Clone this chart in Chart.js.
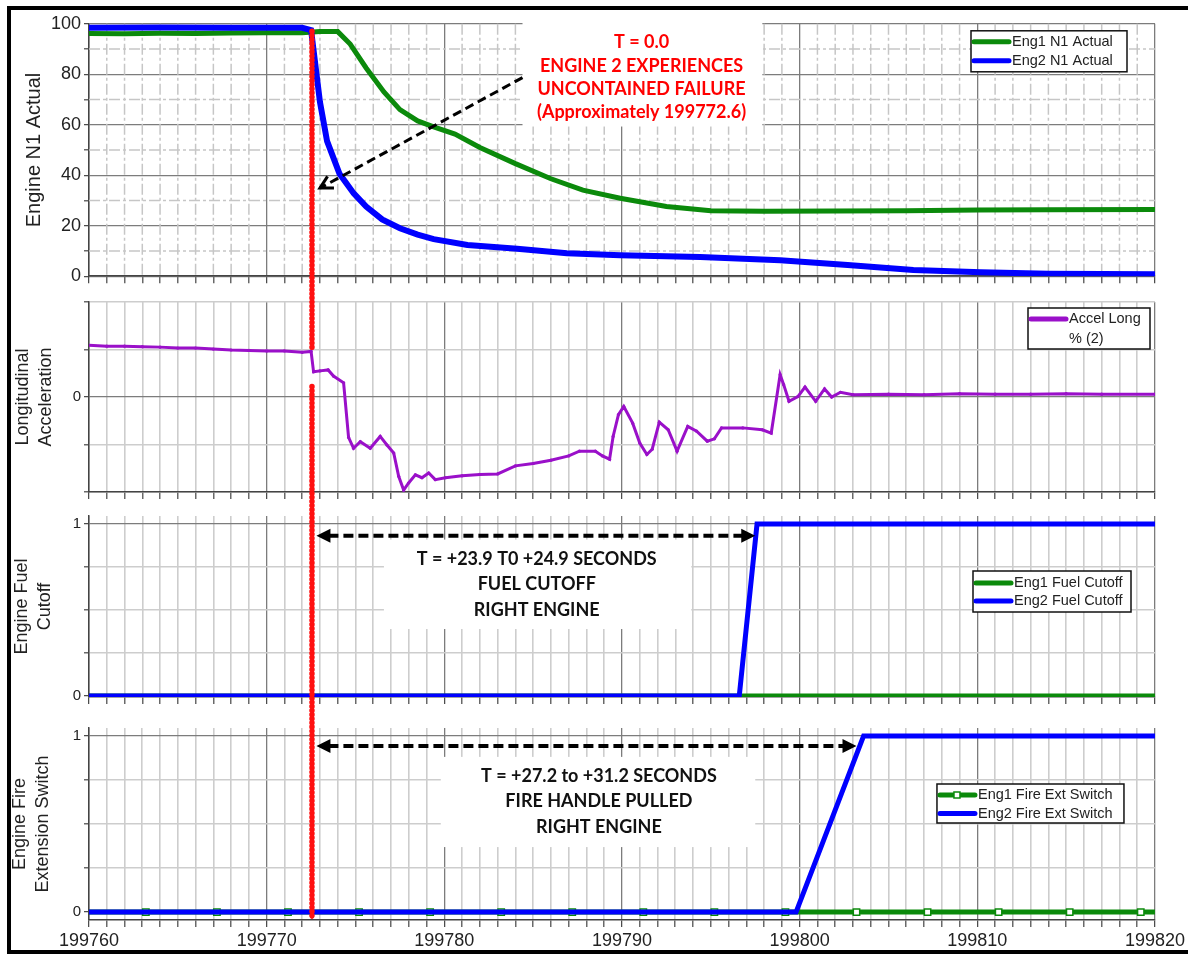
<!DOCTYPE html>
<html>
<head>
<meta charset="utf-8">
<script src="https://cdn.jsdelivr.net/npm/chart.js@4.4.0/dist/chart.umd.min.js"></script>
<style>
body { margin: 0; background: #fff; }
#wrap { position: relative; width: 1188px; height: 954px; overflow: hidden; background: #fff; }
#wrap canvas { position: absolute; left: 0; }
#overlay { top: 0; }
#frame { position: absolute; left: 7px; top: 6px; width: 1200px; height: 940px; border: 4px solid #000; }
</style>
</head>
<body>
<div id="wrap">
  <canvas id="c1"></canvas>
  <canvas id="c2"></canvas>
  <canvas id="c3"></canvas>
  <canvas id="c4"></canvas>
  <canvas id="overlay" width="1188" height="954"></canvas>
  <div id="frame"></div>
</div>
<script>
var xMin = 199760;
var xMax = 199820;
var xLabelValues = [199760, 199770, 199780, 199790, 199800, 199810, 199820];
var failureTime = 199772.55;

// engine N1
var eng1N1Time = [199760, 199762, 199764, 199766, 199768, 199770, 199772, 199773, 199774, 199774.7, 199775.6, 199776.6, 199777.5, 199778.5, 199779.4, 199780.6, 199782, 199784, 199786, 199787.8, 199789.9, 199792.5, 199795, 199798, 199802, 199806, 199810, 199814, 199820];
var eng1N1Value = [96.2, 96.1, 96.3, 96.2, 96.4, 96.5, 96.5, 96.9, 96.9, 92, 82.5, 73, 66, 61.5, 59.2, 56.3, 51, 44.6, 38.6, 34.1, 30.9, 27.6, 25.9, 25.7, 25.8, 25.9, 26.2, 26.3, 26.4];
var eng2N1Time = [199760, 199764, 199768, 199772, 199772.5, 199773, 199773.4, 199774.1, 199774.9, 199775.6, 199776.5, 199777.5, 199778.5, 199779.4, 199781.3, 199784.1, 199786.9, 199789.9, 199794.4, 199798.9, 199802.7, 199806.4, 199810.2, 199814, 199820];
var eng2N1Value = [98.4, 98.5, 98.4, 98.4, 97.5, 69, 53.5, 40.6, 32.8, 27.6, 22.5, 19, 16.5, 14.7, 12.4, 10.9, 9.1, 8.3, 7.6, 6.3, 4.4, 2.5, 1.6, 1.0, 0.8];

// longitudinal acceleration
var accelTime = [199760, 199761, 199762, 199763, 199764, 199765, 199766, 199767, 199768, 199769, 199770, 199771, 199772, 199772.5, 199772.64, 199773, 199773.46, 199773.76, 199774.33, 199774.61, 199774.89, 199775.27, 199775.83, 199776.39, 199776.77, 199777.15, 199777.43, 199777.71, 199777.99, 199778.37, 199778.74, 199779.12, 199779.49, 199780.06, 199781, 199782, 199783, 199784, 199785, 199786, 199787, 199787.6, 199788.5, 199788.9, 199789.3, 199789.5, 199789.8, 199790.1, 199790.6, 199791, 199791.4, 199791.7, 199792.1, 199792.6, 199793.1, 199793.7, 199794.2, 199794.8, 199795.2, 199795.6, 199796.8, 199797.9, 199798.4, 199798.9, 199799.1, 199799.4, 199799.9, 199800.3, 199800.9, 199801.4, 199801.8, 199802.3, 199803, 199805, 199807, 199809, 199811, 199813, 199815, 199817, 199820];
var accelValue = [1.09, 1.07, 1.07, 1.06, 1.05, 1.03, 1.03, 1.01, 0.99, 0.98, 0.97, 0.97, 0.94, 0.96, 0.53, 0.55, 0.57, 0.44, 0.30, -0.85, -1.08, -0.94, -1.08, -0.83, -1.01, -1.18, -1.67, -1.96, -1.81, -1.64, -1.70, -1.60, -1.74, -1.70, -1.66, -1.63, -1.62, -1.45, -1.40, -1.33, -1.24, -1.14, -1.14, -1.24, -1.31, -0.83, -0.37, -0.20, -0.55, -0.97, -1.21, -1.10, -0.53, -0.69, -1.14, -0.62, -0.72, -0.93, -0.88, -0.65, -0.65, -0.69, -0.76, 0.47, 0.26, -0.09, 0.01, 0.21, -0.09, 0.17, 0.0, 0.10, 0.05, 0.06, 0.05, 0.07, 0.06, 0.06, 0.07, 0.06, 0.06];

// fuel cutoff
var eng1CutTime = [199760, 199820];
var eng1CutValue = [0, 0];
var eng2CutTime = [199760, 199796.6, 199797.6, 199820];
var eng2CutValue = [0, 0, 1, 1];

// fire extinguisher switch
var eng1FireTime = [199760, 199763.2, 199767.2, 199771.2, 199775.2, 199779.2, 199783.2, 199787.2, 199791.2, 199795.2, 199799.2, 199803.2, 199807.2, 199811.2, 199815.2, 199819.2, 199820];
var eng1FireValue = [0, 0, 0, 0, 0, 0, 0, 0, 0, 0, 0, 0, 0, 0, 0, 0, 0];
var eng2FireTime = [199760, 199799.8, 199803.6, 199820];
var eng2FireValue = [0, 0, 1, 1];

// y ticks
var n1Ticks = [0, 10, 20, 30, 40, 50, 60, 70, 80, 90, 100];
var n1TickLabels = [0, 20, 40, 60, 80, 100];
var accelTicks = [-2, -1, 0, 1, 2];
var accelTickLabels = [0];
var switchTicks = [0, 0.25, 0.5, 0.75, 1];
var switchTickLabels = [0, 1];

var GREEN = '#0b8a0b';
var BLUE = '#0000ff';
var PURPLE = '#9a10c9';
var MAJOR = '#7c7c7c';
var MINOR = '#cdcdcd';
var FONT = "'Liberation Sans', Arial, sans-serif";

var xTicks = [];
for (var t = xMin; t <= xMax; t++) xTicks.push(t);

function pts(times, values) {
    return times.map(function (x, i) { return { x: x, y: values[i] }; });
}

var boxLegend = {
    id: 'boxLegend',
    afterDatasetsDraw: function (chart, args, o) {
        var ctx = chart.ctx, a = chart.chartArea;
        var x = a.right - o.right - o.width, y = a.top + o.top;
        ctx.save();
        ctx.fillStyle = '#fff';
        ctx.fillRect(x, y, o.width, o.height);
        ctx.strokeStyle = '#111';
        ctx.lineWidth = 1.5;
        ctx.strokeRect(x, y, o.width, o.height);
        chart.data.datasets.forEach(function (ds, i) {
            var ly = y + o.rowTop + i * o.rowH;
            ctx.strokeStyle = ds.borderColor;
            ctx.lineWidth = 5;
            ctx.lineCap = 'round';
            ctx.beginPath();
            ctx.moveTo(x + 3, ly);
            ctx.lineTo(x + 38, ly);
            ctx.stroke();
            if (ds.pointStyle === 'rect') {
                ctx.fillStyle = '#fff';
                ctx.strokeStyle = ds.borderColor;
                ctx.lineWidth = 1.5;
                ctx.fillRect(x + 17, ly - 3, 6, 6);
                ctx.strokeRect(x + 17, ly - 3, 6, 6);
            }
            ctx.fillStyle = '#222';
            ctx.font = '14.5px ' + FONT;
            ctx.textBaseline = 'middle';
            ds.label.split('\n').forEach(function (line, k) {
                ctx.fillText(line, x + 41, ly + k * o.rowH);
            });
        });
        ctx.restore();
    }
};

var minorDash = {
    id: 'minorDash',
    beforeDatasetsDraw: function (chart) {
        var ctx = chart.ctx, a = chart.chartArea, sx = chart.scales.x, sy = chart.scales.y;
        ctx.save();
        ctx.strokeStyle = '#c6c6c6';
        ctx.lineWidth = 1.5;
        ctx.setLineDash([11, 3, 3, 3]);
        sx.ticks.forEach(function (tk) {
            if (tk.value % 10 === 0) return;
            var px = sx.getPixelForValue(tk.value);
            ctx.beginPath(); ctx.moveTo(px, a.top); ctx.lineTo(px, a.bottom); ctx.stroke();
        });
        sy.ticks.forEach(function (tk) {
            if (tk.value % 20 === 0) return;
            var py = sy.getPixelForValue(tk.value);
            ctx.beginPath(); ctx.moveTo(a.left, py); ctx.lineTo(a.right, py); ctx.stroke();
        });
        ctx.restore();
    }
};

function panel(id, box, y, datasets, legend, showX, dashed) {
    var cv = document.getElementById(id);
    cv.width = 1188;
    cv.height = box.h;
    cv.style.top = box.top + 'px';
    return new Chart(cv, {
        type: 'line',
        data: { datasets: datasets },
        options: {
            responsive: false,
            animation: false,
            events: [],
            layout: { padding: { top: box.pad, left: 0, right: 33, bottom: 0 } },
            plugins: { legend: { display: false }, tooltip: { enabled: false }, boxLegend: legend },
            scales: {
                x: {
                    type: 'linear', min: xMin, max: xMax,
                    afterBuildTicks: function (s) { s.ticks = xTicks.map(function (v) { return { value: v }; }); },
                    afterFit: function (s) { s.height = box.xh; },
                    grid: {
                        color: function (c) { return c.tick.value % 10 === 0 ? MAJOR : (dashed ? 'rgba(0,0,0,0)' : MINOR); },
                        lineWidth: function (c) { return c.tick.value % 10 === 0 ? 1.3 : 1.6; },
                        tickColor: '#444', tickLength: 7, tickWidth: 1.2
                    },
                    border: { color: '#444', width: 1.5 },
                    ticks: {
                        display: showX, autoSkip: false, maxRotation: 0, padding: 3, color: '#222',
                        font: { family: FONT, size: 18 },
                        callback: function (v) { return xLabelValues.indexOf(v) >= 0 ? String(v) : ''; }
                    }
                },
                y: {
                    min: y.min, max: y.max,
                    afterBuildTicks: function (s) { s.ticks = y.ticks.map(function (v) { return { value: v }; }); },
                    afterFit: function (s) { s.width = 89; },
                    grid: {
                        color: function (c) { return y.major.indexOf(c.tick.value) >= 0 ? MAJOR : (dashed ? 'rgba(0,0,0,0)' : MINOR); },
                        lineWidth: function (c) { return y.major.indexOf(c.tick.value) >= 0 ? 1.3 : 1.6; },
                        tickColor: '#444', tickLength: 5, tickWidth: 1.2
                    },
                    border: { color: '#444', width: 1.5 },
                    title: {
                        display: true, text: y.title, color: '#222',
                        font: { family: FONT, size: y.titleSize, lineHeight: 1.25 },
                        padding: { top: y.titlePad, bottom: 0 }
                    },
                    ticks: {
                        padding: 3, color: '#222', font: { family: FONT, size: y.tickSize },
                        callback: function (v) { return y.labels.indexOf(v) >= 0 ? String(v) : ''; }
                    }
                }
            }
        },
        plugins: dashed ? [minorDash, boxLegend] : [boxLegend]
    });
}

var c1 = panel('c1', { top: 10, h: 280, pad: 10, xh: 12 },
    { min: 0, max: 100, ticks: n1Ticks, labels: n1TickLabels, major: n1TickLabels, title: 'Engine N1 Actual', titleSize: 20, titlePad: 22, tickSize: 18 },
    [
        { label: 'Eng1 N1 Actual', data: pts(eng1N1Time, eng1N1Value), borderColor: GREEN, borderWidth: 5, pointRadius: 0, order: 1 },
        { label: 'Eng2 N1 Actual', data: pts(eng2N1Time, eng2N1Value), borderColor: BLUE, borderWidth: 6, pointRadius: 0, order: 0 }
    ],
    { right: 28, top: 7, width: 156, height: 41, rowTop: 11, rowH: 19 }, false, true);

var c2 = panel('c2', { top: 290, h: 214, pad: 10, xh: 12 },
    { min: -2, max: 2, ticks: accelTicks, labels: accelTickLabels, major: [0], title: ['Longitudinal', 'Acceleration'], titleSize: 18, titlePad: 12, tickSize: 15 },
    [
        { label: 'Accel Long\n% (2)', data: pts(accelTime, accelValue), borderColor: PURPLE, backgroundColor: PURPLE, borderWidth: 3, pointRadius: 1.6, pointBorderWidth: 0 }
    ],
    { right: 5, top: 6, width: 122, height: 41, rowTop: 11, rowH: 20 }, false, false);

var c3 = panel('c3', { top: 504, h: 205, pad: 9, xh: 12 },
    { min: -0.006, max: 1.046, ticks: switchTicks, labels: switchTickLabels, major: switchTickLabels, title: ['Engine Fuel', 'Cutoff'], titleSize: 18, titlePad: 11, tickSize: 15 },
    [
        { label: 'Eng1 Fuel Cutoff', data: pts(eng1CutTime, eng1CutValue), borderColor: GREEN, borderWidth: 5, pointRadius: 0, order: 1 },
        { label: 'Eng2 Fuel Cutoff', data: pts(eng2CutTime, eng2CutValue), borderColor: BLUE, borderWidth: 5, pointRadius: 0, order: 0 }
    ],
    { right: 24, top: 55, width: 158, height: 41, rowTop: 12, rowH: 18 }, false, false);

var c4 = panel('c4', { top: 709, h: 241, pad: 19, xh: 30 },
    { min: -0.045, max: 1.045, ticks: switchTicks, labels: switchTickLabels, major: switchTickLabels, title: ['Engine Fire', 'Extension Switch'], titleSize: 18, titlePad: 9, tickSize: 15 },
    [
        { label: 'Eng1 Fire Ext Switch', data: pts(eng1FireTime, eng1FireValue), borderColor: GREEN, borderWidth: 5, order: 1,
          pointStyle: 'rect', pointBackgroundColor: '#fff', pointBorderColor: GREEN, pointBorderWidth: 1.5,
          pointRadius: function (c) { return (c.dataIndex === 0 || c.dataIndex === eng1FireTime.length - 1) ? 0 : 4.5; } },
        { label: 'Eng2 Fire Ext Switch', data: pts(eng2FireTime, eng2FireValue), borderColor: BLUE, borderWidth: 5, pointRadius: 0, order: 0 }
    ],
    { right: 31, top: 56, width: 187, height: 39, rowTop: 11, rowH: 18.5 }, true, false);

// annotations drawn across the panels
var notes = [
    { chart: c1, x1: 199784.4, x2: 199797.9, y1: 100.4, y2: 59.3, cx: 199791.1, cy: 78.7, gap: 23.4, color: '#ff0000',
      lines: ['T = 0.0', 'ENGINE 2 EXPERIENCES', 'UNCONTAINED FAILURE', '(Approximately 199772.6)'] },
    { chart: c3, x1: 199776.6, x2: 199793.9, y1: 0.909, y2: 0.389, cx: 199785.2, cy: 0.647, gap: 25.5, color: '#111',
      lines: ['T = +23.9 T0 +24.9 SECONDS', 'FUEL CUTOFF', 'RIGHT ENGINE'] },
    { chart: c4, x1: 199779.8, x2: 199797.5, y1: 0.881, y2: 0.369, cx: 199788.7, cy: 0.627, gap: 25.7, color: '#111',
      lines: ['T = +27.2 to +31.2 SECONDS', 'FIRE HANDLE PULLED', 'RIGHT ENGINE'] }
];
var spans = [
    { chart: c3, from: 199772.8, to: 199797.5, y: 0.931 },
    { chart: c4, from: 199772.8, to: 199803.2, y: 0.943 }
];

function drawOverlay() {
    var ctx = document.getElementById('overlay').getContext('2d');
    var X = function (v) { return c1.scales.x.getPixelForValue(v); };
    var Y = function (ch, v) { return ch.scales.y.getPixelForValue(v) + parseFloat(ch.canvas.style.top); };

    notes.forEach(function (n) {
        var l = X(n.x1), r = X(n.x2), t = Y(n.chart, n.y1), b = Y(n.chart, n.y2);
        ctx.fillStyle = '#fff';
        ctx.fillRect(l, t, r - l, b - t);
    });

    // failure line: solid core with beaded edge
    var fx = X(failureTime);
    ctx.save();
    [[Y(c1, 97), Y(c2, 1.0)], [Y(c2, 0.22), Y(c4, -0.03)]].forEach(function (s) {
        ctx.strokeStyle = '#ff1010';
        ctx.lineWidth = 3.5;
        ctx.setLineDash([]);
        ctx.beginPath(); ctx.moveTo(fx, s[0]); ctx.lineTo(fx, s[1]); ctx.stroke();
        ctx.lineWidth = 5.5;
        ctx.lineCap = 'round';
        ctx.setLineDash([0.1, 4]);
        ctx.beginPath(); ctx.moveTo(fx, s[0]); ctx.lineTo(fx, s[1]); ctx.stroke();
    });
    ctx.restore();

    // arrow to the failure line
    ctx.save();
    ctx.strokeStyle = '#000';
    ctx.lineWidth = 3;
    ctx.setLineDash([9, 5]);
    var ax1 = X(199784.4), ay1 = Y(c1, 78.7), ax2 = X(199773.0), ay2 = Y(c1, 34.9);
    ctx.beginPath(); ctx.moveTo(ax1, ay1); ctx.lineTo(ax2, ay2); ctx.stroke();
    ctx.setLineDash([]);
    var ang = Math.atan2(ay2 - ay1, ax2 - ax1);
    ctx.beginPath();
    ctx.moveTo(ax2 - 14 * Math.cos(ang - 0.5), ay2 - 14 * Math.sin(ang - 0.5));
    ctx.lineTo(ax2, ay2);
    ctx.lineTo(ax2 - 14 * Math.cos(ang + 0.5), ay2 - 14 * Math.sin(ang + 0.5));
    ctx.stroke();
    ctx.restore();

    // double-headed spans
    spans.forEach(function (s) {
        var l = X(s.from), r = X(s.to), y = Y(s.chart, s.y);
        ctx.save();
        ctx.strokeStyle = '#000';
        ctx.fillStyle = '#000';
        ctx.lineWidth = 4;
        ctx.setLineDash([10, 5]);
        ctx.beginPath(); ctx.moveTo(l + 12, y); ctx.lineTo(r - 12, y); ctx.stroke();
        ctx.beginPath(); ctx.moveTo(l, y); ctx.lineTo(l + 14, y - 7); ctx.lineTo(l + 14, y + 7); ctx.closePath(); ctx.fill();
        ctx.beginPath(); ctx.moveTo(r, y); ctx.lineTo(r - 14, y - 7); ctx.lineTo(r - 14, y + 7); ctx.closePath(); ctx.fill();
        ctx.restore();
    });

    notes.forEach(function (n) {
        var cx = X(n.cx), cy = Y(n.chart, n.cy);
        ctx.fillStyle = n.color;
        ctx.font = 'bold 18px Lato, "Open Sans", sans-serif';
        ctx.textAlign = 'center';
        ctx.textBaseline = 'middle';
        n.lines.forEach(function (line, i) {
            ctx.fillText(line, cx, cy + (i - (n.lines.length - 1) / 2) * n.gap);
        });
    });
}

drawOverlay();
</script>
</body>
</html>
